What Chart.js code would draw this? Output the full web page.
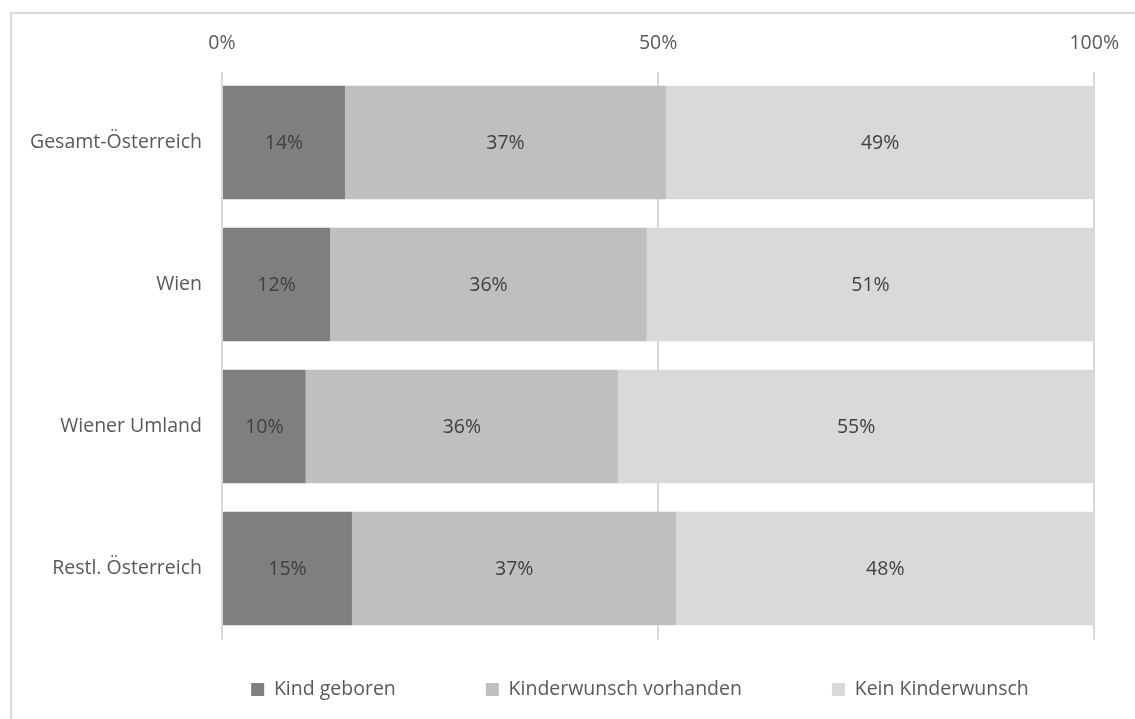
<!DOCTYPE html>
<html>
<head>
<meta charset="utf-8">
<script src="https://cdn.jsdelivr.net/npm/chart.js@4"></script>
<style>
  body { margin: 0; background: #fff; overflow: hidden; }
  #box {
    position: absolute; left: 10px; top: 12px;
    width: 1140px; height: 720px;
    border: 2px solid #d9d9d9; box-sizing: border-box;
  }
  #wrap { position: absolute; left: 0; top: 0; width: 1123px; height: 705px; }
</style>
</head>
<body>
<div id="box"><div id="wrap"><canvas id="chart"></canvas></div></div>
<script>
const regions = ["Gesamt-Österreich", "Wien", "Wiener Umland", "Restl. Österreich"];
const kindGeboren = [14.1, 12.4, 9.6, 14.9];
const kinderwunsch = [36.8, 36.3, 35.8, 37.2];
const keinWunsch = [49.1, 51.3, 54.6, 47.9];
const xTicks = [0, 50, 100];

const font = "'Open Sans', sans-serif";
const fontSize = 19.5;
const legendGap = 90;

// draws the rounded percentage inside each bar segment
const barLabels = {
    id: 'barLabels',
    afterDatasetsDraw(chart) {
        const ctx = chart.ctx;
        ctx.save();
        ctx.font = fontSize + "px " + font;
        ctx.fillStyle = '#404040';
        ctx.textAlign = 'center';
        ctx.textBaseline = 'middle';
        chart.data.datasets.forEach((ds, i) => {
            chart.getDatasetMeta(i).data.forEach((bar, j) => {
                const p = bar.getProps(['x', 'y', 'base'], true);
                ctx.fillText(Math.round(ds.data[j]) + '%', (p.x + p.base) / 2, p.y + 1);
            });
        });
        ctx.restore();
    }
};

// legend items sit far apart horizontally, so move the legend box after layout
const legendPlace = {
    id: 'legendPlace',
    afterLayout(chart) {
        const lg = chart.legend;
        lg.top = 675.5 - legendGap - fontSize / 2;
        lg.bottom = chart.height;
        lg.height = lg.bottom - lg.top;
        lg.left += 85;
        lg.right += 85;
    }
};

const chart = new Chart(document.getElementById("chart"), {
    type: 'bar',
    data: {
        labels: regions,
        datasets: [
            { label: "Kind geboren", data: kindGeboren, backgroundColor: '#7f7f7f' },
            { label: "Kinderwunsch vorhanden", data: kinderwunsch, backgroundColor: '#bfbfbf' },
            { label: "Kein Kinderwunsch", data: keinWunsch, backgroundColor: '#d9d9d9' }
        ]
    },
    options: {
        indexAxis: 'y',
        responsive: true,
        maintainAspectRatio: false,
        animation: false,
        datasets: { bar: { categoryPercentage: 0.8, barPercentage: 1.0 } },
        layout: { autoPadding: false, padding: { left: 0, right: 37, top: 0, bottom: 0 } },
        scales: {
            x: {
                position: 'top',
                stacked: true,
                min: 0, max: 100,
                afterBuildTicks: (s) => { s.ticks = xTicks.map(v => ({ value: v })); },
                afterFit: (s) => { s.height = 57.5; },
                ticks: {
                    callback: v => v + '%',
                    font: { family: font, size: fontSize },
                    color: '#595959',
                    padding: 16
                },
                grid: { color: '#d9d9d9', lineWidth: 2, drawTicks: false },
                border: { display: false }
            },
            y: {
                stacked: true,
                afterFit: (s) => { s.width = 210; },
                ticks: {
                    font: { family: font, size: fontSize },
                    color: '#595959',
                    padding: 20
                },
                grid: { display: false, drawTicks: false },
                border: { display: false }
            }
        },
        plugins: {
            legend: {
                position: 'bottom',
                maxHeight: 79.5,
                labels: {
                    font: { family: font, size: fontSize },
                    color: '#595959',
                    boxWidth: 13,
                    boxHeight: 13,
                    padding: legendGap
                }
            },
            tooltip: { enabled: false }
        }
    },
    plugins: [barLabels, legendPlace]
});
</script>
</body>
</html>
